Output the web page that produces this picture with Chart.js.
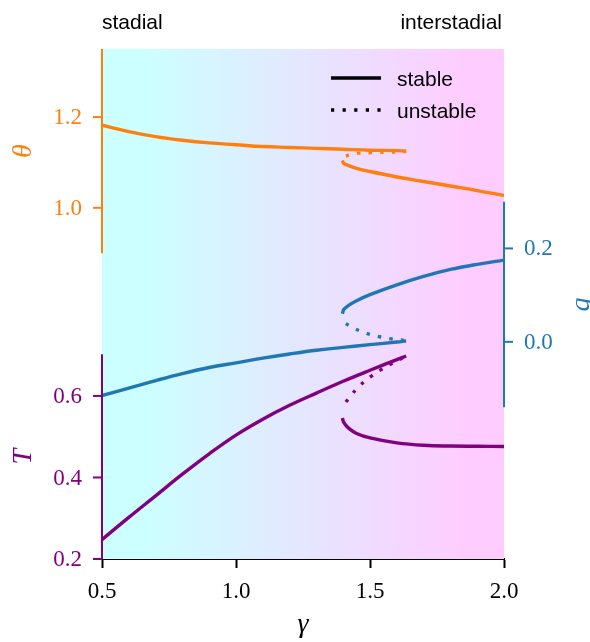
<!DOCTYPE html>
<html>
<head>
<meta charset="utf-8">
<script src="https://cdn.jsdelivr.net/npm/chart.js@4.4.1/dist/chart.umd.min.js"></script>
<style>
  html, body { margin: 0; padding: 0; background: #fff; }
</style>
</head>
<body>
<canvas id="bifurcation" width="590" height="642"></canvas>
<script>
// gamma values along each branch of the fold
const gammaStadial = [0.5, 0.6, 0.7, 0.8, 0.9, 1.0, 1.1, 1.2, 1.3, 1.4, 1.5, 1.6, 1.635];
const gammaUnstable = [1.41, 1.43, 1.46, 1.5, 1.54, 1.58, 1.62, 1.635];
const gammaInterstadial = [1.397, 1.402, 1.42, 1.45, 1.5, 1.6, 1.7, 1.8, 1.9, 2.0];

// theta (salinity-like variable)
const thetaStadial = [1.182, 1.168, 1.157, 1.149, 1.143, 1.139, 1.135, 1.133, 1.131, 1.129, 1.127, 1.126, 1.125];
const thetaUnstable = [1.114, 1.118, 1.1205, 1.1215, 1.1222, 1.1228, 1.1236, 1.124];
const thetaInterstadial = [1.104, 1.098, 1.093, 1.087, 1.080, 1.068, 1.058, 1.048, 1.038, 1.027];

// q (overturning)
const qStadial = [-0.115, -0.099, -0.083, -0.068, -0.055, -0.045, -0.035, -0.026, -0.018, -0.012, -0.006, -0.0005, 0.002];
const qUnstable = [0.039, 0.032, 0.024, 0.016, 0.0103, 0.0063, 0.0037, 0.002];
const qInterstadial = [0.060, 0.069, 0.078, 0.088, 0.101, 0.122, 0.140, 0.155, 0.166, 0.175];

// T (temperature)
const tStadial = [0.2476, 0.302, 0.355, 0.408, 0.458, 0.504, 0.543, 0.577, 0.607, 0.636, 0.663, 0.689, 0.698];
const tUnstable = [0.585, 0.602, 0.624, 0.646, 0.664, 0.679, 0.693, 0.698];
const tInterstadial = [0.546, 0.535, 0.521, 0.508, 0.497, 0.485, 0.479, 0.477, 0.4765, 0.476];

// tick labels
const gammaTicks = [0.5, 1.0, 1.5, 2.0];
const thetaTicks = [1.0, 1.2];
const qTicks = [0.0, 0.2];
const tTicks = [0.2, 0.4, 0.6];

const ORANGE = '#ff7f0e';
const BLUE = '#1f77b4';
const PURPLE = '#800080';
const DOTS = [3.2, 8.4];

function zip(xs, ys) {
  return xs.map((x, i) => ({ x: x, y: ys[i] }));
}

function branch(xs, ys, axis, color, dashed) {
  return {
    data: zip(xs, ys),
    yAxisID: axis,
    borderColor: color,
    borderWidth: 3.4,
    borderDash: dashed ? DOTS : [],
    borderCapStyle: 'butt',
    pointRadius: 0,
    fill: false,
    tension: 0.4
  };
}

// left/right spines only cover part of the plot height
function drawSpine(ctx, scale, x, dir, color, ticks, bounds, title) {
  const yA = scale.getPixelForValue(bounds[0]);
  const yB = scale.getPixelForValue(bounds[1]);
  ctx.save();
  ctx.strokeStyle = color;
  ctx.fillStyle = color;
  ctx.lineWidth = 2;
  ctx.beginPath();
  ctx.moveTo(x, yA);
  ctx.lineTo(x, yB);
  ctx.stroke();

  ctx.font = '23px "Liberation Serif"';
  ctx.textAlign = dir < 0 ? 'right' : 'left';
  ctx.textBaseline = 'middle';
  ticks.forEach(v => {
    const y = scale.getPixelForValue(v);
    ctx.beginPath();
    ctx.moveTo(x, y);
    ctx.lineTo(x + dir * 9, y);
    ctx.stroke();
    ctx.fillText(v.toFixed(1), x + dir * 20, y + 1);
  });

  // axis title, rotated, centred on the spine
  ctx.translate(x + dir * 78, (yA + yB) / 2);
  ctx.rotate(-Math.PI / 2);
  ctx.font = 'italic 28px "Liberation Serif"';
  ctx.textAlign = 'center';
  ctx.fillText(title, 0, 0);
  ctx.restore();
}

const decor = {
  id: 'decor',
  beforeDatasetsDraw(chart) {
    const { ctx, chartArea: a, scales } = chart;
    const xs = scales.x;
    const g = ctx.createLinearGradient(xs.getPixelForValue(0.67), 0, xs.getPixelForValue(1.87), 0);
    g.addColorStop(0, '#ccffff');
    g.addColorStop(1, '#ffccff');
    ctx.save();
    ctx.fillStyle = g;
    ctx.fillRect(a.left, a.top, a.right - a.left, a.bottom - a.top);
    ctx.restore();
  },
  afterDatasetsDraw(chart) {
    const { ctx, chartArea: a, scales } = chart;
    drawSpine(ctx, scales.theta, a.left, -1, ORANGE, thetaTicks, [0.9, 1.35], 'θ');
    drawSpine(ctx, scales.T, a.left, -1, PURPLE, tTicks, [0.2, 0.702], 'T');
    drawSpine(ctx, scales.q, a.right, 1, BLUE, qTicks, [-0.14, 0.30], 'q');

    ctx.save();
    // x axis title
    ctx.fillStyle = '#000';
    ctx.font = 'italic 28px "Liberation Serif"';
    ctx.textAlign = 'center';
    ctx.textBaseline = 'alphabetic';
    ctx.fillText('γ', (a.left + a.right) / 2, 632);

    // regime captions above the plot
    ctx.font = '21px "Liberation Sans"';
    ctx.textAlign = 'left';
    ctx.fillText('stadial', a.left, 29);
    ctx.textAlign = 'right';
    ctx.fillText('interstadial', a.right - 2, 29);

    // legend
    ctx.strokeStyle = '#000';
    ctx.lineWidth = 3.3;
    ctx.beginPath();
    ctx.moveTo(331, 78);
    ctx.lineTo(381, 78);
    ctx.stroke();
    ctx.setLineDash(DOTS);
    ctx.beginPath();
    ctx.moveTo(331, 110);
    ctx.lineTo(381, 110);
    ctx.stroke();
    ctx.setLineDash([]);
    ctx.textAlign = 'left';
    ctx.fillText('stable', 397, 86);
    ctx.fillText('unstable', 397, 118);
    ctx.restore();
  }
};

new Chart(document.getElementById('bifurcation'), {
  type: 'line',
  data: {
    datasets: [
      branch(gammaStadial, thetaStadial, 'theta', ORANGE, false),
      branch(gammaUnstable, thetaUnstable, 'theta', ORANGE, true),
      branch(gammaInterstadial, thetaInterstadial, 'theta', ORANGE, false),
      branch(gammaStadial, qStadial, 'q', BLUE, false),
      branch(gammaUnstable, qUnstable, 'q', BLUE, true),
      branch(gammaInterstadial, qInterstadial, 'q', BLUE, false),
      branch(gammaStadial, tStadial, 'T', PURPLE, false),
      branch(gammaUnstable, tUnstable, 'T', PURPLE, true),
      branch(gammaInterstadial, tInterstadial, 'T', PURPLE, false)
    ]
  },
  options: {
    responsive: false,
    animation: false,
    devicePixelRatio: 1,
    layout: { padding: { left: 102, right: 86, top: 49, bottom: 0 } },
    plugins: { legend: { display: false }, tooltip: { enabled: false } },
    scales: {
      x: {
        type: 'linear',
        min: 0.5,
        max: 2.0,
        afterBuildTicks: s => { s.ticks = gammaTicks.map(v => ({ value: v })); },
        afterFit: s => { s.height = 83; },
        ticks: {
          color: '#000',
          font: { family: 'Liberation Serif', size: 23 },
          padding: 10,
          maxRotation: 0,
          callback: v => v.toFixed(1)
        },
        grid: { drawOnChartArea: false, tickLength: 9, tickWidth: 2, tickColor: '#000' },
        border: { color: '#000', width: 2 }
      },
      theta: { type: 'linear', position: 'left', display: false, min: 0.226, max: 1.35 },
      T: { type: 'linear', position: 'left', display: false, min: 0.2, max: 1.451 },
      q: { type: 'linear', position: 'right', display: false, min: -0.465, max: 0.627 }
    }
  },
  plugins: [decor]
});
</script>
</body>
</html>
